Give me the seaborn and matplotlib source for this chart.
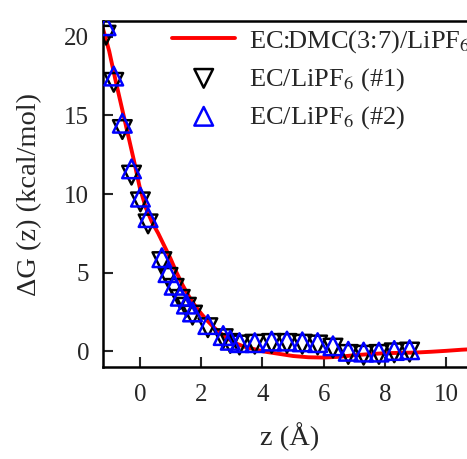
import numpy as np
import pandas as pd
import matplotlib
matplotlib.use("Agg")
import matplotlib.pyplot as plt
import seaborn as sns

# Dados
curva_z = [-1.2, -1.0, -0.8, -0.6, -0.4, -0.2, 0.0, 0.2, 0.4, 0.6, 0.8, 1.0, 1.2, 1.4,
           1.6, 1.8, 2.0, 2.2, 2.4, 2.6, 2.8, 3.0, 3.2, 3.4, 3.6, 3.8, 4.0, 4.5, 5.0,
           5.5, 6.0, 6.5, 7.0, 7.5, 8.0, 8.5, 9.0, 9.5, 10.0, 10.5, 11.0]
curva_dg = [20.5, 19.1, 17.3, 15.6, 13.9, 12.2, 10.4, 9.1, 8.2, 7.5, 6.7, 5.9, 5.0, 4.2,
            3.5, 2.9, 2.4, 1.95, 1.55, 1.2, 0.9, 0.65, 0.45, 0.3, 0.2, 0.1, 0.0, -0.15, -0.3,
            -0.38, -0.4, -0.35, -0.25, -0.18, -0.12, -0.1, -0.08, -0.03, 0.03, 0.1, 0.15]

pontos_z = [-1.1, -0.85, -0.57, -0.27, 0.02, 0.27, 0.72, 0.92, 1.12, 1.32, 1.52, 1.72, 2.22,
            2.72, 2.95, 3.25, 3.75, 4.3, 4.8, 5.3, 5.8, 6.3, 6.8, 7.3, 7.8, 8.3, 8.8]
dg_ec1 = [20.1, 17.1, 14.1, 11.2, 9.5, 8.1, 5.7, 4.7, 4.0, 3.3, 2.8, 2.3, 1.5,
          0.8, 0.5, 0.4, 0.45, 0.5, 0.5, 0.45, 0.4, 0.2, -0.2, -0.25, -0.2, -0.1, -0.05]
dg_ec2 = [20.7, 17.5, 14.5, 11.6, 9.8, 8.5, 5.95, 5.0, 4.2, 3.5, 3.0, 2.5, 1.7,
          1.0, 0.7, 0.55, 0.55, 0.65, 0.65, 0.6, 0.55, 0.35, 0.0, -0.05, -0.05, 0.05, 0.1]

curva_df = pd.DataFrame({'z': curva_z, 'dG': curva_dg})
pontos_df = pd.DataFrame({'z': pontos_z, 'ec1': dg_ec1, 'ec2': dg_ec2})

sns.set_style("ticks")
plt.rcParams['font.family'] = ['Liberation Serif', 'DejaVu Serif']
plt.rcParams['mathtext.fontset'] = 'stix'

fig = plt.figure(figsize=(4.67, 4.59), dpi=100)
ax = fig.add_axes([0.2206, 0.2004, 0.8009, 0.7538])

sns.lineplot(data=curva_df, x='z', y='dG', ax=ax, color='red', linewidth=2.8,
             label=r'EC:DMC(3:7)/LiPF$_6$', zorder=2)
sns.scatterplot(data=pontos_df, x='z', y='ec1', ax=ax, marker='v', s=180,
                facecolors='none', edgecolor='black', linewidth=1.8,
                label=r'EC/LiPF$_6$ (#1)', zorder=3)
sns.scatterplot(data=pontos_df, x='z', y='ec2', ax=ax, marker='^', s=180,
                facecolors='none', edgecolor='blue', linewidth=1.8,
                label=r'EC/LiPF$_6$ (#2)', zorder=4)

ax.set_xlim(-1.2, 11)
ax.set_ylim(-1, 21)
ax.set_xticks([0, 2, 4, 6, 8, 10])
ax.set_yticks([0, 5, 10, 15, 20])
ax.set_xlabel('z (Å)', fontsize=20.5, labelpad=12)
ax.set_ylabel('ΔG (z) (kcal/mol)', fontsize=20.5, labelpad=16)
ax.tick_params(axis='both', direction='in', length=7, width=1.5, labelsize=18,
               top=False, right=False)
ax.tick_params(axis='x', pad=12)
ax.tick_params(axis='y', pad=10)
for lado in ax.spines.values():
    lado.set_linewidth(1.8)
    lado.set_color('black')

# a legenda fica cortada na borda direita, como no original
ax.legend(loc='upper left', bbox_to_anchor=(0.1845, 0.98), frameon=False,
          fontsize=19, borderpad=0, borderaxespad=0, handlelength=2.4,
          handletextpad=0.53, labelspacing=0.42)

fig.savefig('out.png', dpi=100)
